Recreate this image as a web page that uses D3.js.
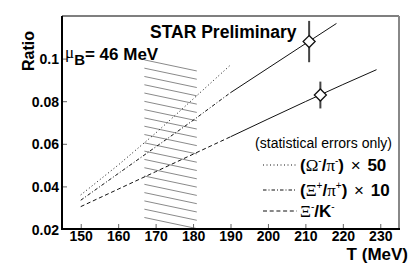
<!DOCTYPE html>
<html lang="en">
    <head>
        <meta charset="UTF-8" />
        <title>Ratio vs T</title>
        <style>
            body { margin: 0; background: #fff; }
        </style>
    </head>
    <body>
        <div id="main"></div>
        <script src="https://cdn.jsdelivr.net/npm/d3@7/dist/d3.min.js"></script>
        <script>
            const svgWidth = 411
            const svgHeight = 273
            const fontFamily = "Liberation Sans, Arial, Helvetica, sans-serif"
            const greekFont = "Liberation Serif, Times New Roman, serif"

            // low-T part of the curves (drawn with line styles)
            const tempsLow = [150, 160, 170, 180, 190]
            const omegaPi = [0.036, 0.05, 0.065, 0.081, 0.097]
            const xiPi = [0.0335, 0.046, 0.0585, 0.071, 0.084]
            const xiK = [0.0305, 0.0387, 0.0469, 0.0551, 0.0633]

            // high-T continuation (solid)
            const tempsXiPiHigh = [190, 200, 210, 218.3]
            const xiPiHigh = [0.084, 0.0955, 0.107, 0.1165]
            const tempsXiKHigh = [190, 200, 210, 220, 229]
            const xiKHigh = [0.0633, 0.0716, 0.0798, 0.0878, 0.0948]

            // measured points
            const pointT = [211, 214]
            const pointValue = [0.108, 0.0829]
            const pointError = [0.0097, 0.0063]

            // hatched band
            const bandT = [167, 181]
            const bandTop = 0.0994
            const bandBottom = 0.0254

            const xTicks = [150, 160, 170, 180, 190, 200, 210, 220, 230]
            const yTicks = [0.02, 0.04, 0.06, 0.08, 0.1]
            const yTickLabels = ["0.02", "0.04", "0.06", "0.08", "0.1"]

            const plotLeft = 62
            const plotRight = 399
            const plotTop = 16
            const plotBottom = 229

            const x = d3.scaleLinear().domain([145, 235]).range([plotLeft, plotRight])
            const y = d3.scaleLinear().domain([0.02, 0.12]).range([plotBottom, plotTop])

            const svg = d3
                .select("#main")
                .append("svg")
                .attr("width", svgWidth)
                .attr("height", svgHeight)
                .style("display", "block")

            // hatch
            const hatchCount = 20
            const step = (bandTop - bandBottom) / (hatchCount - 1)
            const drop = 0.0052
            svg.append("g")
                .selectAll("line")
                .data(d3.range(hatchCount))
                .enter()
                .append("line")
                .attr("x1", x(bandT[0]))
                .attr("x2", x(bandT[1]))
                .attr("y1", (d) => y(bandTop - d * step))
                .attr("y2", (d) => y(bandTop - d * step - drop))
                .attr("stroke", "#8a8a8a")
                .attr("stroke-width", 1)

            const line = d3
                .line()
                .x((d) => x(d[0]))
                .y((d) => y(d[1]))

            const curves = [
                { t: tempsLow, v: omegaPi, dash: "1,2.5" },
                { t: tempsLow, v: xiPi, dash: "3.5,2,1,2" },
                { t: tempsLow, v: xiK, dash: "4,2.7" },
                { t: tempsXiPiHigh, v: xiPiHigh, dash: null },
                { t: tempsXiKHigh, v: xiKHigh, dash: null },
            ]
            svg.append("g")
                .selectAll("path")
                .data(curves)
                .enter()
                .append("path")
                .attr("d", (c) => line(c.t.map((t, i) => [t, c.v[i]])))
                .attr("fill", "none")
                .attr("stroke", "#111")
                .attr("stroke-width", 1)
                .attr("stroke-dasharray", (c) => c.dash)

            // error bars + diamonds
            const pts = pointT.map((t, i) => ({
                t: t,
                v: pointValue[i],
                e: pointError[i],
            }))
            const pg = svg.append("g")
            pg.selectAll("line")
                .data(pts)
                .enter()
                .append("line")
                .attr("x1", (d) => x(d.t))
                .attr("x2", (d) => x(d.t))
                .attr("y1", (d) => y(d.v + d.e))
                .attr("y2", (d) => y(d.v - d.e))
                .attr("stroke", "#444")
                .attr("stroke-width", 2)
            pg.selectAll("path")
                .data(pts)
                .enter()
                .append("path")
                .attr("transform", (d) => `translate(${x(d.t)},${y(d.v)})`)
                .attr("d", "M0,-6L6,0L0,6L-6,0Z")
                .attr("fill", "#fff")
                .attr("stroke", "#111")
                .attr("stroke-width", 1.3)

            // axes
            const xAxis = svg
                .append("g")
                .attr("transform", `translate(0,${plotBottom})`)
                .call(
                    d3
                        .axisBottom(x)
                        .tickValues(xTicks)
                        .tickSizeInner(-5)
                        .tickSizeOuter(0)
                        .tickPadding(2)
                )
            const yAxis = svg
                .append("g")
                .attr("transform", `translate(${plotLeft},0)`)
                .call(
                    d3
                        .axisLeft(y)
                        .tickValues(yTicks)
                        .tickFormat((d, i) => yTickLabels[i])
                        .tickSizeInner(-5)
                        .tickSizeOuter(0)
                        .tickPadding(3)
                )
            ;[xAxis, yAxis].forEach((g) => {
                g.select(".domain").remove()
                g.selectAll(".tick line").attr("stroke", "#666")
                g.selectAll(".tick text")
                    .attr("font-size", 14)
                    .attr("font-weight", "bold")
                    .attr("font-family", fontFamily)
                    .attr("fill", "#000")
            })
            yAxis.selectAll(".tick text").attr("dy", "0.36em")

            // frame
            svg.append("line")
                .attr("x1", plotLeft).attr("x2", plotRight)
                .attr("y1", plotTop).attr("y2", plotTop)
                .attr("stroke", "#000").attr("stroke-width", 1.2)
            svg.append("line")
                .attr("x1", plotRight).attr("x2", plotRight)
                .attr("y1", plotTop).attr("y2", plotBottom)
                .attr("stroke", "#888").attr("stroke-width", 2)
            svg.append("line")
                .attr("x1", plotLeft).attr("x2", plotLeft)
                .attr("y1", plotTop).attr("y2", plotBottom + 1)
                .attr("stroke", "#000").attr("stroke-width", 2)
            svg.append("line")
                .attr("x1", plotLeft - 1).attr("x2", plotRight + 1)
                .attr("y1", plotBottom).attr("y2", plotBottom)
                .attr("stroke", "#000").attr("stroke-width", 2)

            // labels
            svg.append("text")
                .attr("transform", "translate(34,51) rotate(-90)")
                .attr("text-anchor", "middle")
                .attr("font-size", 16)
                .attr("font-weight", "bold")
                .attr("font-family", fontFamily)
                .text("Ratio")
            svg.append("text")
                .attr("x", 408)
                .attr("y", 260)
                .attr("text-anchor", "end")
                .attr("font-size", 17)
                .attr("font-weight", "bold")
                .attr("font-family", fontFamily)
                .text("T (MeV)")
            svg.append("text")
                .attr("x", 150)
                .attr("y", 38)
                .attr("font-size", 17.5)
                .attr("font-weight", "bold")
                .attr("font-family", fontFamily)
                .text("STAR Preliminary")

            const mu = svg
                .append("text")
                .attr("x", 65)
                .attr("y", 60)
                .attr("font-size", 17)
                .attr("font-weight", "bold")
                .attr("font-family", fontFamily)
            mu.append("tspan")
                .attr("font-family", greekFont)
                .attr("font-weight", "normal")
                .attr("dy", -2)
                .text("\u03bc")
            mu.append("tspan").attr("dy", 7).attr("font-size", 15).text("B")
            mu.append("tspan").attr("dy", -5).text("= 46 MeV")

            // legend
            svg.append("text")
                .attr("x", 392)
                .attr("y", 148)
                .attr("text-anchor", "end")
                .attr("font-size", 14)
                .attr("font-family", fontFamily)
                .text("(statistical errors only)")

            const legendRows = [
                { y: 165, dash: "1,2.5", parts: ["(", "\u03a9", "-", "/", "\u03c0", "-", ")", " \u00d7 ", "50"] },
                { y: 190, dash: "3.5,2,1,2", parts: ["(", "\u039e", "+", "/", "\u03c0", "+", ")", " \u00d7 ", "10"] },
                { y: 211, dash: "4,2.7", parts: ["\u039e", "-", "/K", "-"] },
            ]
            const lg = svg.append("g")
            legendRows.forEach((row) => {
                lg.append("line")
                    .attr("x1", 263)
                    .attr("x2", 297)
                    .attr("y1", row.y)
                    .attr("y2", row.y)
                    .attr("stroke", "#111")
                    .attr("stroke-width", 1)
                    .attr("stroke-dasharray", row.dash)
                const t = lg
                    .append("text")
                    .attr("x", 300)
                    .attr("y", row.y + 6)
                    .attr("font-size", 17)
                    .attr("font-weight", "bold")
                    .attr("font-family", fontFamily)
                let raised = false
                row.parts.forEach((p) => {
                    const s = t.append("tspan")
                    if (p === "-" || p === "+") {
                        s.attr("font-size", 10).attr("dy", -7).attr("font-weight", "normal")
                        raised = true
                        s.text(p)
                        return
                    }
                    if (raised) {
                        s.attr("dy", 7)
                        raised = false
                    }
                    if (/[\u0391-\u03c9]/.test(p)) {
                        s.attr("font-family", greekFont).attr("font-weight", "normal")
                    }
                    if (p === " \u00d7 ") {
                        s.attr("font-weight", "normal").attr("dx", 2)
                    }
                    if (p === "50" || p === "10") {
                        s.attr("dx", 2)
                    }
                    s.text(p)
                })
            })
        </script>
    </body>
</html>
